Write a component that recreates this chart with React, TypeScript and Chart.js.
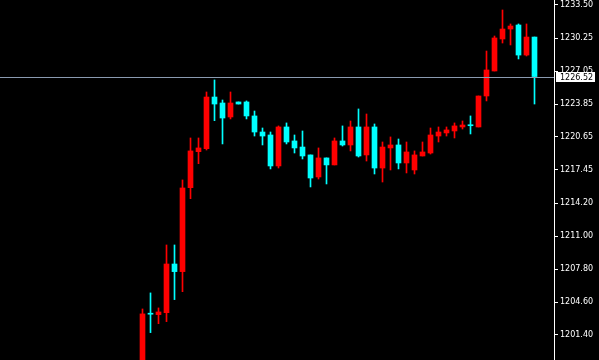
import React, { useEffect, useRef } from "react";
import { Chart, registerables } from "chart.js";

Chart.register(...registerables);

const OPEN = [1197.52, 1203.47, 1203.38, 1203.57, 1208.3, 1207.56, 1215.72, 1219.22, 1219.51, 1224.53, 1223.95, 1222.59, 1224.05, 1224.05, 1222.69, 1221.13, 1220.84, 1217.83, 1221.62, 1220.26, 1219.67, 1218.9, 1216.76, 1218.61, 1217.93, 1220.26, 1219.87, 1221.62, 1218.9, 1221.62, 1217.63, 1219.58, 1219.87, 1218.12, 1217.44, 1218.8, 1219.09, 1220.74, 1221.04, 1221.23, 1221.62, 1221.81, 1221.62, 1224.63, 1227.06, 1230.17, 1231.14, 1231.53, 1228.61, 1230.36];
const HIGH = [1203.93, 1205.49, 1204.03, 1210.15, 1210.15, 1216.47, 1220.55, 1220.55, 1225.02, 1226.19, 1224.24, 1225.02, 1224.05, 1224.15, 1223.17, 1221.52, 1221.13, 1221.72, 1222.01, 1220.84, 1221.23, 1218.9, 1219.58, 1218.61, 1220.55, 1221.72, 1222.2, 1223.37, 1222.88, 1221.91, 1220.16, 1220.65, 1220.45, 1220.16, 1219.29, 1220.16, 1221.52, 1221.62, 1221.62, 1222.01, 1222.2, 1222.69, 1224.63, 1229.0, 1230.46, 1232.99, 1231.63, 1231.63, 1231.63, 1230.36];
const LOW = [1196.55, 1201.63, 1202.5, 1202.7, 1204.84, 1205.61, 1214.65, 1218.05, 1219.38, 1222.23, 1219.97, 1222.4, 1223.85, 1222.4, 1220.74, 1219.87, 1217.54, 1217.63, 1219.97, 1219.09, 1218.51, 1215.79, 1216.56, 1216.08, 1217.93, 1219.77, 1219.29, 1218.7, 1218.31, 1217.05, 1216.27, 1217.44, 1217.54, 1217.15, 1217.05, 1218.8, 1218.99, 1220.16, 1220.74, 1220.55, 1221.42, 1220.94, 1221.62, 1224.15, 1227.06, 1229.78, 1229.59, 1228.23, 1228.52, 1223.85];
const CLOSE = [1203.45, 1203.42, 1203.64, 1208.3, 1207.56, 1215.69, 1219.29, 1219.58, 1224.53, 1223.85, 1222.49, 1223.95, 1223.85, 1222.69, 1221.13, 1220.74, 1217.83, 1221.62, 1220.16, 1219.58, 1218.8, 1216.66, 1218.61, 1217.93, 1220.26, 1219.87, 1221.62, 1218.8, 1221.62, 1217.63, 1219.67, 1219.87, 1218.12, 1219.19, 1218.9, 1219.19, 1220.84, 1221.13, 1221.33, 1221.72, 1221.81, 1221.74, 1224.63, 1227.16, 1230.27, 1231.14, 1231.43, 1228.61, 1230.36, 1226.52];

const Y_TICKS = [1233.5, 1230.25, 1227.05, 1223.85, 1220.65, 1217.45, 1214.2, 1211.0, 1207.8, 1204.6, 1201.4];
const LAST_PRICE = 1226.52;

const UP_COLOR = "#ff0000";
const DOWN_COLOR = "#00ffff";
const FONT = "DejaVu Sans";

export default function App() {
  const ref = useRef<HTMLCanvasElement | null>(null);

  useEffect(() => {
    document.body.style.margin = "0";
    document.body.style.background = "#000";
    const canvas = ref.current;
    if (!canvas) return;

    const colors = OPEN.map((o, i) => (CLOSE[i] >= o ? UP_COLOR : DOWN_COLOR));
    const bodies = OPEN.map((o, i) => ({ x: i, y: [o, CLOSE[i]] }));
    const wicks = LOW.map((l, i) => ({ x: i, y: [l, HIGH[i]] }));

    const priceLine = {
      id: "priceLine",
      afterDraw(chart: any) {
        const ctx = chart.ctx;
        const area = chart.chartArea;
        const ys = chart.scales.y;
        const py = Math.round(ys.getPixelForValue(LAST_PRICE)) + 0.5;
        ctx.save();
        ctx.strokeStyle = "#8a9ab0";
        ctx.lineWidth = 1;
        ctx.beginPath();
        ctx.moveTo(area.left, py);
        ctx.lineTo(area.right, py);
        ctx.stroke();
        ctx.fillStyle = "#ffffff";
        ctx.fillRect(area.right + 2, py - 5.5, 39, 10);
        ctx.fillStyle = "#000000";
        ctx.font = `8px "${FONT}"`;
        ctx.textBaseline = "middle";
        ctx.textAlign = "left";
        ctx.fillText(LAST_PRICE.toFixed(2), area.right + 6, py);
        ctx.restore();
      },
    };

    const chart = new Chart(canvas, {
      type: "bar",
      data: {
        datasets: [
          {
            data: bodies as any,
            backgroundColor: colors,
            borderWidth: 0,
            barThickness: 5,
            maxBarThickness: 5,
            grouped: false,
            minBarLength: 1,
          } as any,
          {
            data: wicks as any,
            backgroundColor: colors,
            borderWidth: 0,
            barThickness: 1,
            maxBarThickness: 1,
            grouped: false,
            minBarLength: 1,
          } as any,
        ],
      },
      options: {
        animation: false,
        responsive: false,
        devicePixelRatio: 1,
        layout: { padding: 0 },
        plugins: { legend: { display: false }, tooltip: { enabled: false } },
        scales: {
          x: {
            type: "linear",
            display: false,
            offset: false,
            grid: { offset: false },
            min: -17.8125,
            max: -17.8125 + 554 / 8,
          },
          y: {
            position: "right",
            min: 1198.97,
            max: 1233.96,
            afterFit(scale: any) {
              scale.width = 45;
              scale.paddingTop = 0;
              scale.paddingBottom = 0;
            },
            afterBuildTicks(scale: any) {
              scale.ticks = Y_TICKS.map((v) => ({ value: v }));
            },
            border: { display: true, color: "#ffffff", width: 1 },
            grid: {
              drawOnChartArea: false,
              drawTicks: true,
              tickLength: 4,
              color: "#ffffff",
            },
            ticks: {
              autoSkip: false,
              color: "#ffffff",
              padding: 2,
              font: { family: FONT, size: 8 },
              callback: (v: any) => Number(v).toFixed(2),
            },
          },
        },
      },
      plugins: [priceLine],
    });

    return () => chart.destroy();
  }, []);

  return (
    <div style={{ position: "fixed", left: 0, top: 0, width: 599, height: 360, background: "#000" }}>
      <canvas ref={ref} width={599} height={360} style={{ display: "block" }} />
    </div>
  );
}
